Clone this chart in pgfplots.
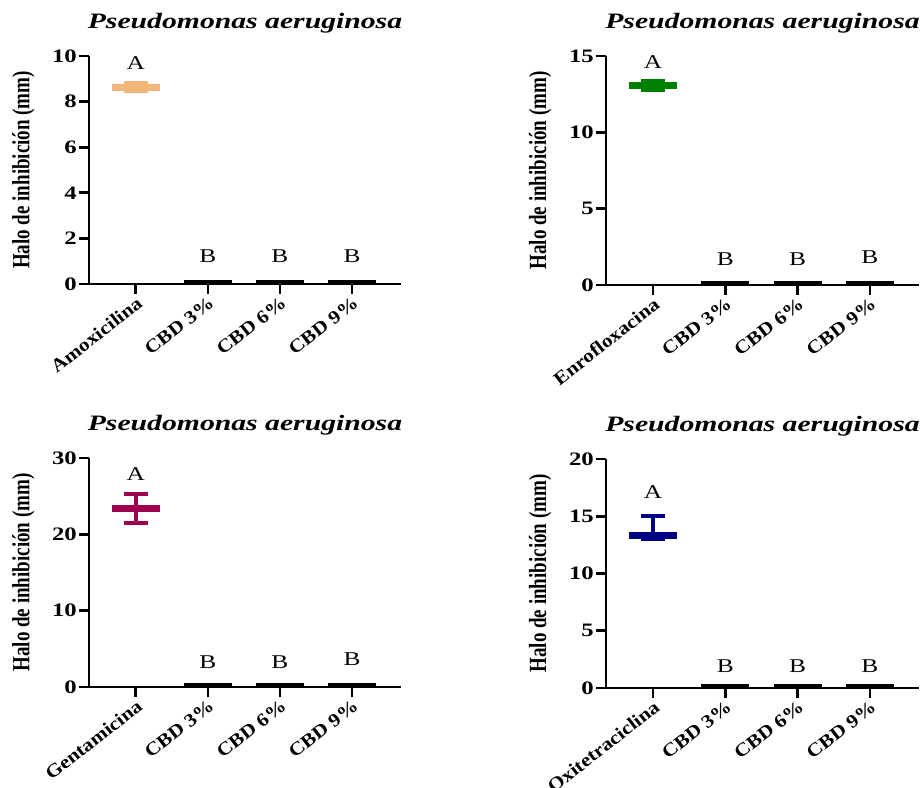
\documentclass[border=0pt]{standalone}
\usepackage{fontspec}
\setmainfont{Liberation Serif}
\newfontfamily\wide{Liberation Serif}[FakeStretch=1.3]
\newfontfamily\widex{Liberation Serif}[FakeStretch=1.15]
\newfontfamily\widet{Liberation Serif}[FakeStretch=1.35]
\usepackage{graphicx}
\usepackage{pgfplots}
\pgfplotsset{compat=1.18}
\definecolor{peach}{HTML}{F2B57A}
\definecolor{dgreen}{HTML}{008000}
\definecolor{wine}{HTML}{9E0050}
\definecolor{navyb}{HTML}{000080}
\tikzset{letter/.style={font=\wide\fontsize{19.5bp}{19.5bp}\selectfont}}
\pgfplotsset{panel/.style={
  scale only axis, width=312bp, height=228bp,
  xmin=-0.65, xmax=3.68, ymin=0,
  axis x line=bottom, axis y line=left,
  axis line style={-, line width=2.7bp, black},
  tick align=outside, major tick length=10bp,
  every tick/.style={black, line width=2.7bp},
  xtick={0,1,2,3},
  x tick label style={font=\widex\bfseries\fontsize{18.5bp}{18.5bp}\selectfont, rotate=38, anchor=north east, inner sep=1bp},
  y tick label style={font=\wide\bfseries\fontsize{19bp}{19bp}\selectfont, inner sep=2bp},
  /pgf/number format/assume math mode=true,
  ylabel={\scalebox{1}[1.3]{Halo de inhibición (mm)}},
  ylabel style={font=\bfseries\fontsize{19bp}{19bp}\selectfont, at={(axis description cs:-0.21,0.5)}, anchor=center},
  title={Pseudomonas aeruginosa},
  title style={font=\widet\bfseries\itshape\fontsize{22bp}{22bp}\selectfont, at={(axis description cs:0.5,1)}, anchor=base, yshift=22bp},
  clip=false,
},
meanline/.style={only marks, mark=-, mark size=24bp, mark options={line width=7bp}},
zeroline/.style={black, only marks, mark=-, mark size=24bp, mark options={line width=2.8bp}},
errs/.style={error bars/.cd, y dir=both, y explicit, error bar style={line width=4.5bp}, error mark options={rotate=90, mark size=12bp, line width=4bp}}
}
\begin{document}
\begin{tikzpicture}
\useasboundingbox (0,0) rectangle (924bp,788bp);
% Panel 1
\begin{axis}[panel, at={(89bp,504bp)}, anchor=south west, ymax=10, ytick={0,2,4,6,8,10},
  xticklabels={Amoxicilina, CBD 3\%, CBD 6\%, CBD 9\%}]
\addplot[peach, meanline, errs] coordinates {(0,8.63) +- (0,0.17)};
\addplot[zeroline] coordinates {(1,0.11) (2,0.11) (3,0.11)};
\node[letter] at (axis cs:0,9.7) {A};
\node[letter] at (axis cs:1,1.2) {B};
\node[letter] at (axis cs:2,1.2) {B};
\node[letter] at (axis cs:3,1.2) {B};
\end{axis}
% Panel 2
\begin{axis}[panel, at={(606bp,503bp)}, anchor=south west, width=313bp, height=229bp, ymax=15, ytick={0,5,10,15},
  xticklabels={Enrofloxacina, CBD 3\%, CBD 6\%, CBD 9\%}]
\addplot[dgreen, meanline, errs] coordinates {(0,13.07) +- (0,0.27)};
\addplot[zeroline] coordinates {(1,0.16) (2,0.16) (3,0.16)};
\node[letter] at (axis cs:0,14.6) {A};
\node[letter] at (axis cs:1,1.7) {B};
\node[letter] at (axis cs:2,1.7) {B};
\node[letter] at (axis cs:3,1.8) {B};
\end{axis}
% Panel 3
\begin{axis}[panel, at={(89bp,101bp)}, anchor=south west, height=229bp, ymax=30, ytick={0,10,20,30},
  xticklabels={Gentamicina, CBD 3\%, CBD 6\%, CBD 9\%}]
\addplot[wine, meanline, errs] coordinates {(0,23.4) +- (0,1.9)};
\addplot[zeroline] coordinates {(1,0.33) (2,0.33) (3,0.33)};
\node[letter] at (axis cs:0,27.9) {A};
\node[letter] at (axis cs:1,3.3) {B};
\node[letter] at (axis cs:2,3.3) {B};
\node[letter] at (axis cs:3,3.6) {B};
\end{axis}
% Panel 4
\begin{axis}[panel, at={(606bp,100bp)}, anchor=south west, width=313bp, height=229bp, ymax=20, ytick={0,5,10,15,20},
  xticklabels={Oxitetraciclina, CBD 3\%, CBD 6\%, CBD 9\%}]
\addplot[navyb, meanline] coordinates {(0,13.36)};
\addplot[navyb, only marks, mark=none, error bars/.cd, y dir=both, y explicit, error bar style={line width=4.5bp}, error mark options={rotate=90, mark size=12bp, line width=4bp}] coordinates {(0,13.36) += (0,1.64) -= (0,0.37)};
\addplot[zeroline] coordinates {(1,0.22) (2,0.22) (3,0.22)};
\node[letter] at (axis cs:0,17.1) {A};
\node[letter] at (axis cs:1,1.95) {B};
\node[letter] at (axis cs:2,1.95) {B};
\node[letter] at (axis cs:3,1.95) {B};
\end{axis}
\end{tikzpicture}
\end{document}
